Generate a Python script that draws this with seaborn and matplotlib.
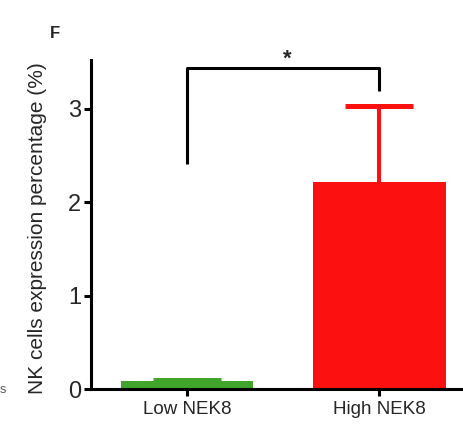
import matplotlib
matplotlib.use("Agg")
import matplotlib.pyplot as plt
import seaborn as sns
import pandas as pd

groups = ["Low NEK8", "High NEK8"]
means = [0.088, 2.21]
sems = [0.012, 0.82]
colors = ["#40a52a", "#fc1010"]
yticks = [0, 1, 2, 3]
ylabel = "NK cells expression percentage (%)"
bracket_y = [2.41, 3.43, 3.43, 3.19]
sig_label = "*"
panel_label = "F"

sns.set_style("ticks")
plt.rcParams["font.family"] = ["Liberation Sans", "DejaVu Sans"]

fig = plt.figure(figsize=(4.64, 4.42), dpi=100)
ax = fig.add_axes([91/464, 1-389/442, 1-91/464, (389-60)/442])

df = pd.DataFrame({"group": groups, "value": means})
sns.barplot(data=df, x="group", y="value", hue="group", palette=dict(zip(groups, colors)),
            width=0.69, errorbar=None, legend=False, ax=ax, linewidth=0, saturation=1)

for i, (m, s, c) in enumerate(zip(means, sems, colors)):
    eb = ax.errorbar(i, m, yerr=[[0], [s]], fmt="none", ecolor=c, elinewidth=2.9,
                     capsize=24.8, capthick=3.6, zorder=1)
    eb[1][0].set_visible(False)
    eb[1][1].set_solid_capstyle("round")

ax.plot([0, 0, 1, 1], bracket_y, color="black", lw=2.2, clip_on=False, solid_capstyle="butt")
ax.text(0.52, 3.42, sig_label, ha="center", va="bottom", fontsize=16, fontweight="bold", clip_on=False)

ax.set_xlim(-0.5, 1.44)
ax.set_ylim(0, 3.52)
ax.set_yticks(yticks)
ax.set_yticklabels([str(t) for t in yticks], fontsize=17)
ax.set_xticks([0, 1])
ax.set_xticklabels(groups, fontsize=13.5)
ax.set_xlabel("")
ax.set_ylabel(ylabel, fontsize=15, va="center")
ax.yaxis.set_label_coords((38-91)/373, (389-228)/329)
for sp in ["top", "right"]:
    ax.spines[sp].set_visible(False)
for sp in ["left", "bottom"]:
    ax.spines[sp].set_linewidth(2.2)
    ax.spines[sp].set_color("black")
ax.tick_params(axis="both", width=2.2, length=5, color="black", direction="out")
ax.tick_params(axis="y", pad=2)
ax.tick_params(axis="x", pad=4)

fig.text(55/464, 1-33/442, panel_label, ha="center", va="center", fontsize=12, fontweight="bold")
fig.text(0.0, 1-390/442, "s", ha="left", va="center", fontsize=9, color="#555555")

fig.savefig("out.png", dpi=100)
